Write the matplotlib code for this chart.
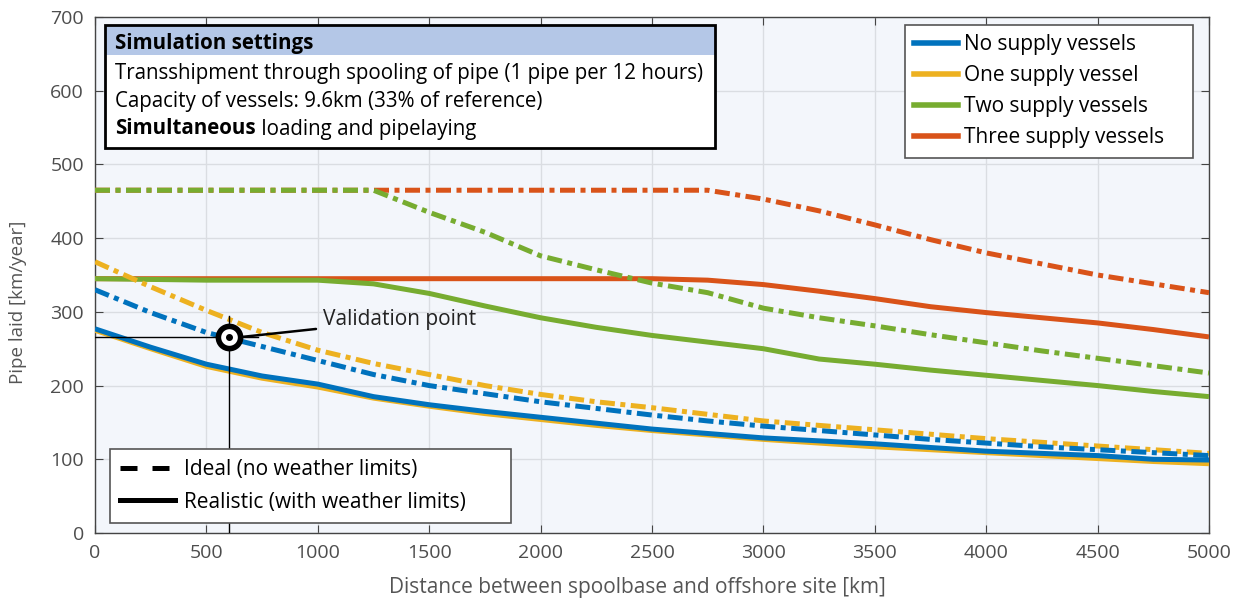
import matplotlib
matplotlib.use("Agg")
import matplotlib.pyplot as plt
from matplotlib.lines import Line2D
from matplotlib.patches import Rectangle

plt.rcParams['font.family'] = ['Open Sans', 'DejaVu Sans']

# ---------------- data ----------------
dist = [0, 250, 500, 750, 1000, 1250, 1500, 1750, 2000, 2250, 2500, 2750,
        3000, 3250, 3500, 3750, 4000, 4250, 4500, 4750, 5000]

no_real   = [277, 252, 229, 213, 202, 185, 174, 165, 157, 149, 141, 135,
             129, 125, 121, 116, 111, 108, 105, 100, 99]
one_real  = [275, 250, 226, 210, 198, 183, 172, 162, 154, 146, 139, 133,
             127, 122, 117, 113, 109, 105, 101, 97, 94]
two_real  = [345, 344, 343, 343, 343, 338, 325, 308, 292, 279, 268, 259,
             250, 236, 229, 221, 214, 207, 200, 192, 185]
three_real = [345, 345, 345, 345, 345, 345, 345, 345, 345, 345, 345, 343,
              337, 328, 318, 307, 299, 292, 285, 276, 266]

no_ideal  = [330, 299, 272, 253, 234, 215, 200, 189, 178, 169, 160, 152,
             145, 139, 133, 127, 122, 117, 113, 109, 105]
one_ideal = [368, 334, 302, 272, 248, 230, 215, 200, 188, 178, 170, 161,
             152, 146, 140, 134, 128, 123, 118, 113, 108]
two_ideal = [465, 465, 465, 465, 465, 465, 435, 408, 376, 357, 339, 326,
             305, 292, 281, 269, 258, 247, 237, 227, 217]
three_ideal = [465, 465, 465, 465, 465, 465, 465, 465, 465, 465, 465, 465,
               453, 437, 418, 398, 380, 365, 350, 338, 326]

series_names = ["No supply vessels", "One supply vessel",
                "Two supply vessels", "Three supply vessels"]
style_names = ["Ideal (no weather limits)", "Realistic (with weather limits)"]
colors = ["#0072BD", "#EDB120", "#77AC30", "#D95319"]

valid_x = 600
valid_y = 266

# ---------------- figure ----------------
fig = plt.figure(figsize=(12.45, 6.03), dpi=100)
ax = fig.add_axes([95/1245, 70/603, 1114/1245, 516/603])
ax.set_facecolor("#F3F6FB")

lw = 3.6
dd = (3.0, 1.1, 1.0, 1.1)

real = [no_real, one_real, two_real, three_real]
ideal = [no_ideal, one_ideal, two_ideal, three_ideal]
order = [3, 2, 1, 0]
for i in order:
    ax.plot(dist, real[i], color=colors[i], lw=lw, solid_capstyle='butt', zorder=3)
    ax.plot(dist, ideal[i], color=colors[i], lw=lw, dashes=dd, zorder=3)

# validation point
ax.plot([0, valid_x + 130], [valid_y, valid_y], color="black", lw=1.0, zorder=4)
ax.plot([valid_x, valid_x], [0, valid_y + 28], color="black", lw=1.0, zorder=4)
ax.plot([valid_x], [valid_y], marker='o', ms=16, mfc='white', mec='black',
        mew=4, zorder=5)
ax.plot([valid_x], [valid_y], marker='o', ms=4, color='black', zorder=6)
ax.annotate("Validation point", xy=(valid_x + 60, valid_y),
            xytext=(1023, 289), va='center', ha='left', fontsize=15,
            color='#222222',
            arrowprops=dict(arrowstyle='-', color='black', lw=1.8,
                            shrinkA=3, shrinkB=0), zorder=6)

ax.set_xlim(0, 5000)
ax.set_ylim(0, 700)
ax.set_xticks(range(0, 5001, 500))
ax.set_yticks(range(0, 701, 100))
ax.grid(True, color="#DADDE2", lw=1.0, zorder=0)
ax.set_axisbelow(True)
ax.tick_params(direction='in', top=True, right=True, length=6,
               labelsize=14, colors='#444444', labelcolor='#4d4d4d', pad=8)
for s in ax.spines.values():
    s.set_color('#444444')
    s.set_linewidth(1.0)
ax.set_xlabel("Distance between spoolbase and offshore site [km]",
              fontsize=15, color='#555555')
ax.set_ylabel("Pipe laid [km/year]", fontsize=13.5, color='#555555')
ax.xaxis.set_label_coords((637-95)/1114, (533-588)/516)
ax.xaxis.label.set_va('center')
ax.yaxis.set_label_coords((18-95)/1114, (533-302)/516)
ax.yaxis.label.set_va('center')

# series legend
handles = [Line2D([0], [0], color=c, lw=4) for c in colors]
leg1 = ax.legend(handles, series_names, loc='upper right', mode='expand',
                 bbox_to_anchor=((905-95)/1114, (533-160)/516,
                                 288/1114, 135/516), fontsize=15,
                 frameon=True, fancybox=False, framealpha=1,
                 handlelength=2.1,
                 handletextpad=0.3, labelspacing=0.48, borderpad=0.45,
                 borderaxespad=0)
leg1.get_frame().set_edgecolor('#555555')
leg1.get_frame().set_linewidth(1.2)
leg1.set_zorder(10)
ax.add_artist(leg1)

# line-style legend
h2 = [Line2D([0], [0], color='black', lw=3.6, dashes=(3.4, 3.0)),
      Line2D([0], [0], color='black', lw=3.6)]
leg2 = ax.legend(h2, style_names, loc='lower left', mode='expand',
                 bbox_to_anchor=((110-95)/1114, 10/516, 401/1114, 76/516),
                 fontsize=15, frameon=True, fancybox=False, framealpha=1,
                 handlelength=2.6, handletextpad=0.45, labelspacing=0.55,
                 borderpad=0.5, borderaxespad=0)
leg2.get_frame().set_edgecolor('#555555')
leg2.get_frame().set_linewidth(1.2)
leg2.set_zorder(10)

# simulation settings box
bx0, bx1 = 10/1114, 620/1114
by0, by1 = (533-148)/516, (533-25)/516
hy0 = (533-55)/516
ax.add_patch(Rectangle((bx0, by0), bx1-bx0, by1-by0, transform=ax.transAxes,
                       facecolor='white', edgecolor='none', zorder=8))
ax.add_patch(Rectangle((bx0, hy0), bx1-bx0, by1-hy0, transform=ax.transAxes,
                       facecolor='#B4C7E7', edgecolor='none', zorder=9))
ax.add_patch(Rectangle((bx0, by0), bx1-bx0, by1-by0, transform=ax.transAxes,
                       facecolor='none', edgecolor='black', lw=2.0, zorder=11))
tx = 20/1114
ax.text(tx, (533-43)/516, "Simulation settings", transform=ax.transAxes,
        fontsize=14.8, fontweight='bold', va='center', ha='left', zorder=12)
ax.text(tx, (533-73)/516,
        "Transshipment through spooling of pipe (1 pipe per 12 hours)",
        transform=ax.transAxes, fontsize=14.8, va='center', ha='left', zorder=12)
ax.text(tx, (533-101)/516, "Capacity of vessels: 9.6km (33% of reference)",
        transform=ax.transAxes, fontsize=14.8, va='center', ha='left', zorder=12)
t1 = ax.text(tx, (533-129)/516, "Simultaneous", transform=ax.transAxes,
             fontsize=14.8, fontweight='bold', va='center', ha='left', zorder=12)
ax.annotate(" loading and pipelaying", xy=(1, 0.5), xycoords=t1,
            va='center', ha='left', fontsize=14.8, zorder=12)

fig.savefig("out.png", dpi=100)
